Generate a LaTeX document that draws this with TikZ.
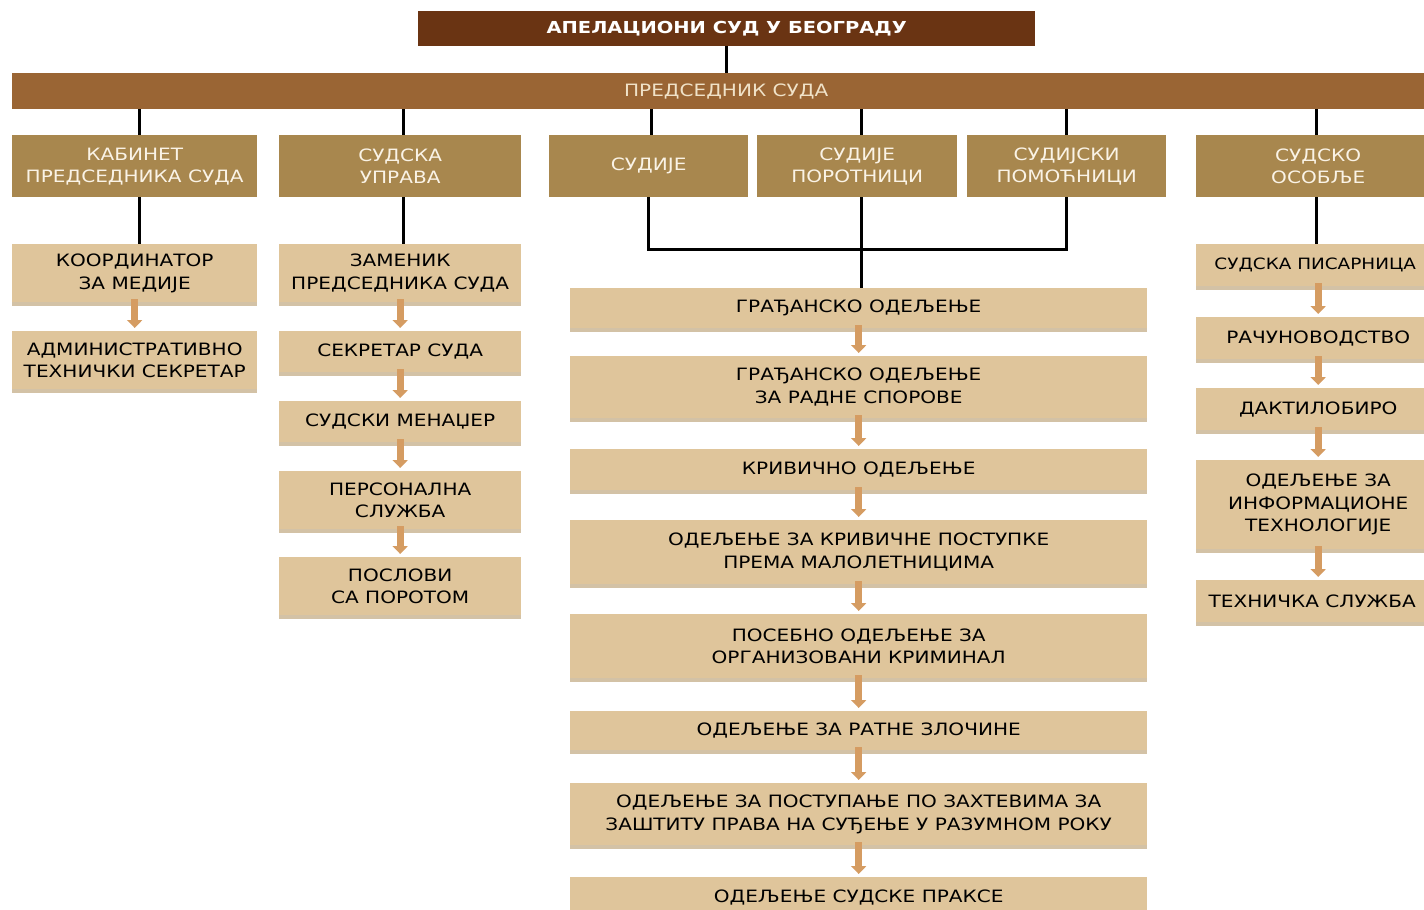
\documentclass[tikz,border=0pt]{standalone}
\usepackage{fontspec}
\setmainfont{DejaVu Sans}
\newfontfamily\pf[FakeStretch=1.18]{DejaVu Sans}
\usetikzlibrary{arrows.meta,calc}
\definecolor{titlec}{HTML}{6A3413}
\definecolor{presc}{HTML}{9A6534}
\definecolor{prest}{HTML}{F0E2C8}
\definecolor{lev2}{HTML}{A8874E}
\definecolor{lev2t}{HTML}{FAF3E6}
\definecolor{lev3}{HTML}{DFC59B}
\definecolor{shad}{HTML}{D3C2A6}
\definecolor{arr}{HTML}{D59C62}
\begin{document}
\begin{tikzpicture}[x=1pt,y=-1pt,
  base/.style={anchor=north west, inner sep=0pt, align=center},
  topbox/.style={base, fill=titlec, text=white, font=\pf\bfseries\fontsize{16.5}{20}\selectfont},
  presbox/.style={base, fill=presc, text=prest, font=\pf\fontsize{17}{22}\selectfont},
  secbox/.style={base, fill=lev2, text=lev2t, font=\pf\fontsize{17}{22}\selectfont},
  unitbox/.style={base, fill=lev3, text=black, font=\pf\fontsize{17}{22.5}\selectfont,
     preaction={fill=shad, transform canvas={yshift=-4pt}}},
  conn/.style={draw=black, line width=3pt},
  flow/.style={draw=arr, line width=7pt, -{Triangle[width=15pt,length=8pt]}, shorten <=1pt, shorten >=3pt}
]
\useasboundingbox (0,0) rectangle (1424,910);
\clip (0,0) rectangle (1424,910);

% top
\node[topbox, minimum width=617, minimum height=35] (court) at (418,11) {АПЕЛАЦИОНИ СУД У БЕОГРАДУ};
\node[presbox, minimum width=1428, minimum height=36] (pres) at (12,73) {ПРЕДСЕДНИК СУДА};

% level 2
\node[secbox, minimum width=245, minimum height=62] (k1) at (12,135) {КАБИНЕТ\\ПРЕДСЕДНИКА СУДА};
\node[secbox, minimum width=242, minimum height=62] (k2) at (279,135) {СУДСКА\\УПРАВА};
\node[secbox, minimum width=199, minimum height=62] (k3) at (549,135) {СУДИЈЕ};
\node[secbox, minimum width=200, minimum height=62] (k4) at (757,135) {СУДИЈЕ\\ПОРОТНИЦИ};
\node[secbox, minimum width=199, minimum height=62] (k5) at (967,135) {СУДИЈСКИ\\ПОМОЋНИЦИ};
\node[secbox, minimum width=244, minimum height=62] (k6) at (1196,135) {СУДСКО\\ОСОБЉЕ};

% column 1
\node[unitbox, minimum width=245, minimum height=58] (a1) at (12,244) {КООРДИНАТОР\\ЗА МЕДИЈЕ};
\node[unitbox, minimum width=245, minimum height=58] (a2) at (12,331) {АДМИНИСТРАТИВНО\\ТЕХНИЧКИ СЕКРЕТАР};

% column 2
\node[unitbox, minimum width=242, minimum height=58] (b1) at (279,244) {ЗАМЕНИК\\ПРЕДСЕДНИКА СУДА};
\node[unitbox, minimum width=242, minimum height=41] (b2) at (279,331) {СЕКРЕТАР СУДА};
\node[unitbox, minimum width=242, minimum height=41] (b3) at (279,401) {СУДСКИ МЕНАЏЕР};
\node[unitbox, minimum width=242, minimum height=58] (b4) at (279,471) {ПЕРСОНАЛНА\\СЛУЖБА};
\node[unitbox, minimum width=242, minimum height=58] (b5) at (279,557) {ПОСЛОВИ\\СА ПОРОТОМ};

% column 3
\node[unitbox, minimum width=577, minimum height=40] (m1) at (570,288) {ГРАЂАНСКО ОДЕЉЕЊЕ};
\node[unitbox, minimum width=577, minimum height=62] (m2) at (570,356) {ГРАЂАНСКО ОДЕЉЕЊЕ\\ЗА РАДНЕ СПОРОВЕ};
\node[unitbox, minimum width=577, minimum height=41] (m3) at (570,449) {КРИВИЧНО ОДЕЉЕЊЕ};
\node[unitbox, minimum width=577, minimum height=64] (m4) at (570,520) {ОДЕЉЕЊЕ ЗА КРИВИЧНЕ ПОСТУПКЕ\\ПРЕМА МАЛОЛЕТНИЦИМА};
\node[unitbox, minimum width=577, minimum height=64] (m5) at (570,614) {ПОСЕБНО ОДЕЉЕЊЕ ЗА\\ОРГАНИЗОВАНИ КРИМИНАЛ};
\node[unitbox, minimum width=577, minimum height=39] (m6) at (570,711) {ОДЕЉЕЊЕ ЗА РАТНЕ ЗЛОЧИНЕ};
\node[unitbox, minimum width=577, minimum height=62] (m7) at (570,783) {ОДЕЉЕЊЕ ЗА ПОСТУПАЊЕ ПО ЗАХТЕВИМА ЗА\\ЗАШТИТУ ПРАВА НА СУЂЕЊЕ У РАЗУМНОМ РОКУ};
\node[unitbox, minimum width=577, minimum height=40] (m8) at (570,877) {ОДЕЉЕЊЕ СУДСКЕ ПРАКСЕ};

% column 4
\node[unitbox, minimum width=244, minimum height=42] (r1) at (1196,244) {};
\node[font=\pf\fontsize{15.6}{20}\selectfont, inner sep=0pt] (r1t) at ($(r1.center)+(-3,0)$) {СУДСКА ПИСАРНИЦА};
\node[unitbox, minimum width=244, minimum height=42] (r2) at (1196,317) {РАЧУНОВОДСТВО};
\node[unitbox, minimum width=244, minimum height=42] (r3) at (1196,388) {ДАКТИЛОБИРО};
\node[unitbox, minimum width=244, minimum height=89] (r4) at (1196,460) {ОДЕЉЕЊЕ ЗА\\ИНФОРМАЦИОНЕ\\ТЕХНОЛОГИЈЕ};
\node[unitbox, minimum width=244, minimum height=42] (r5) at (1196,580) {\hspace*{-6pt}ТЕХНИЧКА СЛУЖБА\hspace*{6pt}};

% connectors
\coordinate (jn) at (0,249);
\draw[conn] (court.south) -- (court.south |- pres.north);
\draw[conn] (pres.south -| {$(k1.north)+(4.5,0)$}) -- ($(k1.north)+(4.5,0)$);
\draw[conn] (pres.south -| {$(k2.north)+(3,0)$}) -- ($(k2.north)+(3,0)$);
\draw[conn] (pres.south -| {$(k3.north)+(2.5,0)$}) -- ($(k3.north)+(2.5,0)$);
\draw[conn] (pres.south -| {$(k4.north)+(4,0)$}) -- ($(k4.north)+(4,0)$);
\draw[conn] (pres.south -| k5.north) -- (k5.north);
\draw[conn] (pres.south -| {$(k6.north)+(-2,0)$}) -- ($(k6.north)+(-2,0)$);
\draw[conn] ($(k1.south)+(4.5,0)$) -- ($(k1.south |- a1.north)+(4.5,0)$);
\draw[conn] ($(k2.south)+(3,0)$) -- ($(k2.south |- b1.north)+(3,0)$);
\draw[conn] ($(k6.south)+(-2,0)$) -- ($(k6.south |- r1.north)+(-2,0)$);
\draw[conn] (k3.south) -- (k3.south |- jn) -- (k5.south |- jn) -- (k5.south);
\draw[conn] ($(k4.south)+(4,0)$) -- ($(k4.south |- m1.north)+(4,0)$);

% flow arrows
\draw[flow] ([yshift=4pt]a1.south) -- (a1.south |- a2.north);
\draw[flow] ([yshift=4pt]b1.south) -- (b1.south |- b2.north);
\draw[flow] ([yshift=4pt]b2.south) -- (b2.south |- b3.north);
\draw[flow] ([yshift=4pt]b3.south) -- (b3.south |- b4.north);
\draw[flow] ([yshift=4pt]b4.south) -- (b4.south |- b5.north);
\draw[flow] ([yshift=4pt]m1.south) -- (m1.south |- m2.north);
\draw[flow] ([yshift=4pt]m2.south) -- (m2.south |- m3.north);
\draw[flow] ([yshift=4pt]m3.south) -- (m3.south |- m4.north);
\draw[flow] ([yshift=4pt]m4.south) -- (m4.south |- m5.north);
\draw[flow] ([yshift=4pt]m5.south) -- (m5.south |- m6.north);
\draw[flow] ([yshift=4pt]m6.south) -- (m6.south |- m7.north);
\draw[flow] ([yshift=4pt]m7.south) -- (m7.south |- m8.north);
\draw[flow] ([yshift=4pt]r1.south) -- (r1.south |- r2.north);
\draw[flow] ([yshift=4pt]r2.south) -- (r2.south |- r3.north);
\draw[flow] ([yshift=4pt]r3.south) -- (r3.south |- r4.north);
\draw[flow] ([yshift=4pt]r4.south) -- (r4.south |- r5.north);
\end{tikzpicture}
\end{document}
